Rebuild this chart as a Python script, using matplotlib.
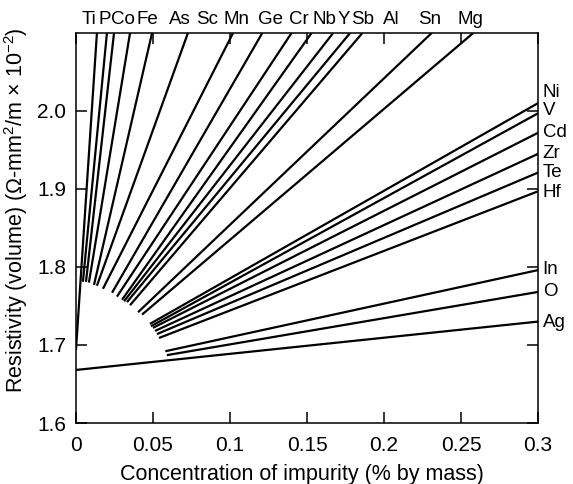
import matplotlib
matplotlib.use("Agg")
import matplotlib.pyplot as plt
import matplotlib.transforms as mtransforms

plt.rcParams['font.family'] = ['Liberation Sans', 'DejaVu Sans']
plt.rcParams['mathtext.fontset'] = 'custom'
plt.rcParams['mathtext.rm'] = 'Liberation Sans'

# impurities whose lines leave through the top edge (rho = 2.1)
top_names = ["Ti", "P", "Co", "Fe", "As", "Sc", "Mn", "Ge", "Cr", "Nb", "Y", "Sb", "Al", "Sn", "Mg"]
top_x0 = [0.0, 0.0045, 0.0065, 0.0084, 0.0117, 0.0136, 0.0175, 0.0234, 0.0266, 0.0299, 0.0312, 0.0331, 0.0351, 0.0403, 0.0429]
top_y0 = [1.694, 1.781, 1.781, 1.780, 1.777, 1.776, 1.772, 1.767, 1.762, 1.758, 1.756, 1.755, 1.751, 1.742, 1.739]
top_x1 = [0.0136, 0.0201, 0.0247, 0.0351, 0.0494, 0.0727, 0.102, 0.121, 0.140, 0.153, 0.167, 0.178, 0.186, 0.231, 0.258]
top_y1 = [2.1] * 15

# impurities whose lines end on the right edge (x = 0.3)
side_names = ["Ni", "V", "Cd", "Zr", "Te", "Hf", "In", "O", "Ag"]
side_x0 = [0.048, 0.0487, 0.050, 0.0513, 0.0526, 0.0539, 0.058, 0.059, 0.0]
side_y0 = [1.727, 1.724, 1.722, 1.718, 1.714, 1.709, 1.692, 1.687, 1.668]
side_x1 = [0.3] * 9
side_y1 = [2.010, 1.997, 1.972, 1.945, 1.921, 1.897, 1.796, 1.768, 1.730]

# label placement
top_label_x = [0.0084, 0.0188, 0.0305, 0.0461, 0.0675, 0.0851, 0.1045, 0.1266, 0.1448, 0.161, 0.174, 0.1864, 0.2045, 0.2299, 0.2558]
side_label_y = [2.024, 2.001, 1.972, 1.946, 1.921, 1.896, 1.797, 1.768, 1.729]

xticks = [0, 0.05, 0.1, 0.15, 0.2, 0.25, 0.3]
xticklabels = ["0", "0.05", "0.1", "0.15", "0.2", "0.25", "0.3"]
yticks = [1.6, 1.7, 1.8, 1.9, 2.0]
yticklabels = ["1.6", "1.7", "1.8", "1.9", "2.0"]

fig = plt.figure(figsize=(5.73, 4.84), dpi=100)
ax = fig.add_axes([0.1326, 0.126, 0.8064, 0.806])

for i in range(len(top_names)):
    ax.plot([top_x0[i], top_x1[i]], [top_y0[i], top_y1[i]], color="black", lw=1.6, solid_capstyle="butt")
for i in range(len(side_names)):
    ax.plot([side_x0[i], side_x1[i]], [side_y0[i], side_y1[i]], color="black", lw=1.6, solid_capstyle="butt")

ax.set_xlim(0, 0.3)
ax.set_ylim(1.6, 2.1)
ax.set_xticks(xticks)
ax.set_xticklabels(xticklabels)
ax.set_yticks(yticks)
ax.set_yticklabels(yticklabels)
ax.tick_params(direction="in", length=8, width=1.1, top=True, right=True,
               labelsize=15)
ax.tick_params(axis="x", pad=9)
ax.tick_params(axis="y", pad=7)
for s in ax.spines.values():
    s.set_linewidth(1.1)

trans_top = mtransforms.blended_transform_factory(ax.transData, ax.transAxes)
for name, lx in zip(top_names, top_label_x):
    ax.text(lx, 1.012, name, transform=trans_top, ha="center", va="bottom", fontsize=13.5)

trans_side = mtransforms.blended_transform_factory(ax.transAxes, ax.transData)
for name, ly in zip(side_names, side_label_y):
    ax.text(1.01, ly, name, transform=trans_side, ha="left", va="center", fontsize=13.5)

ax.set_xlabel("Concentration of impurity (% by mass)", fontsize=15.5)
ax.xaxis.set_label_coords(0.49, -0.105)
ax.set_ylabel(r"Resistivity (volume) ($\Omega$-mm$^2$/m $\times$ 10$^{-2}$)", fontsize=15.5)
ax.yaxis.set_label_coords(-0.10, 0.545)

fig.savefig("out.png", dpi=100)
